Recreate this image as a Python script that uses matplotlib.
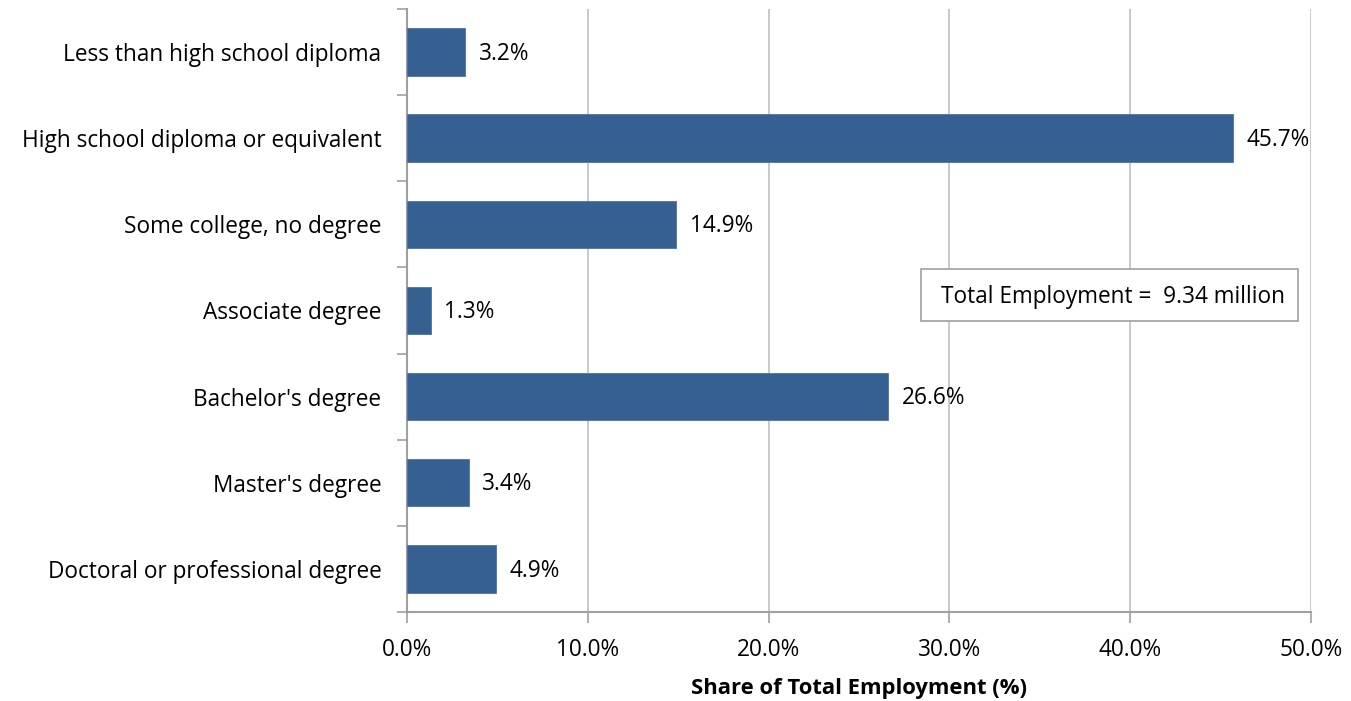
import matplotlib
matplotlib.use("Agg")
import matplotlib.pyplot as plt
from matplotlib.ticker import FuncFormatter, FixedLocator
from matplotlib.patches import Rectangle

categories = ["Less than high school diploma", "High school diploma or equivalent",
              "Some college, no degree", "Associate degree", "Bachelor's degree",
              "Master's degree", "Doctoral or professional degree"]
values = [3.2, 45.7, 14.9, 1.3, 26.6, 3.4, 4.9]
xticks = [0, 10, 20, 30, 40, 50]
note = "Total Employment =  9.34 million"

plt.rcParams['font.family'] = ['Open Sans', 'DejaVu Sans']
FS = 16.3
fig = plt.figure(figsize=(13.51, 7.01), dpi=100)
ax = fig.add_axes([0.3013, 0.1270, 0.9704 - 0.3013, 0.9872 - 0.1270])

n = len(categories)
ypos = list(range(n))
ax.barh(ypos, values, height=0.55, color="#366092", edgecolor="#4a74a8", linewidth=0.6, zorder=3)
ax.set_ylim(n - 0.5, -0.5)
ax.set_xlim(0, 50)
ax.set_yticks(ypos)
ax.set_yticklabels(categories, fontsize=FS)
ax.yaxis.set_minor_locator(FixedLocator([i - 0.5 for i in range(n + 1)]))
ax.tick_params(axis='y', which='major', length=0, pad=18.5)
ax.tick_params(axis='y', which='minor', length=7, color="#a0a0a0", width=1.2)
ax.set_xticks(xticks)
ax.xaxis.set_major_formatter(FuncFormatter(lambda v, p: f"{v:.1f}%"))
ax.tick_params(axis='x', length=8, color="#a0a0a0", width=1.2, labelsize=FS, pad=11)
ax.grid(axis='x', color="#c0c0c0", linewidth=1.2, zorder=0)
for s in ['top', 'right']:
    ax.spines[s].set_visible(False)
for s in ['left', 'bottom']:
    ax.spines[s].set_color("#a0a0a0")
    ax.spines[s].set_linewidth(1.5)

for y, v in zip(ypos, values):
    ax.text(v + 0.75, y + 0.02, f"{v:.1f}%", va='center', ha='left', fontsize=FS)

ax.set_xlabel("Share of Total Employment (%)", fontsize=15.8, fontweight='bold', labelpad=11)

ax.add_patch(Rectangle((28.43, 2.518), 49.28 - 28.43, 3.122 - 2.518, facecolor='white',
                       edgecolor='#a0a0a0', linewidth=1.2, zorder=5))
ax.text(29.55, 2.84, note, fontsize=FS, va='center', ha='left', zorder=6)

fig.savefig("out.png", dpi=100)
